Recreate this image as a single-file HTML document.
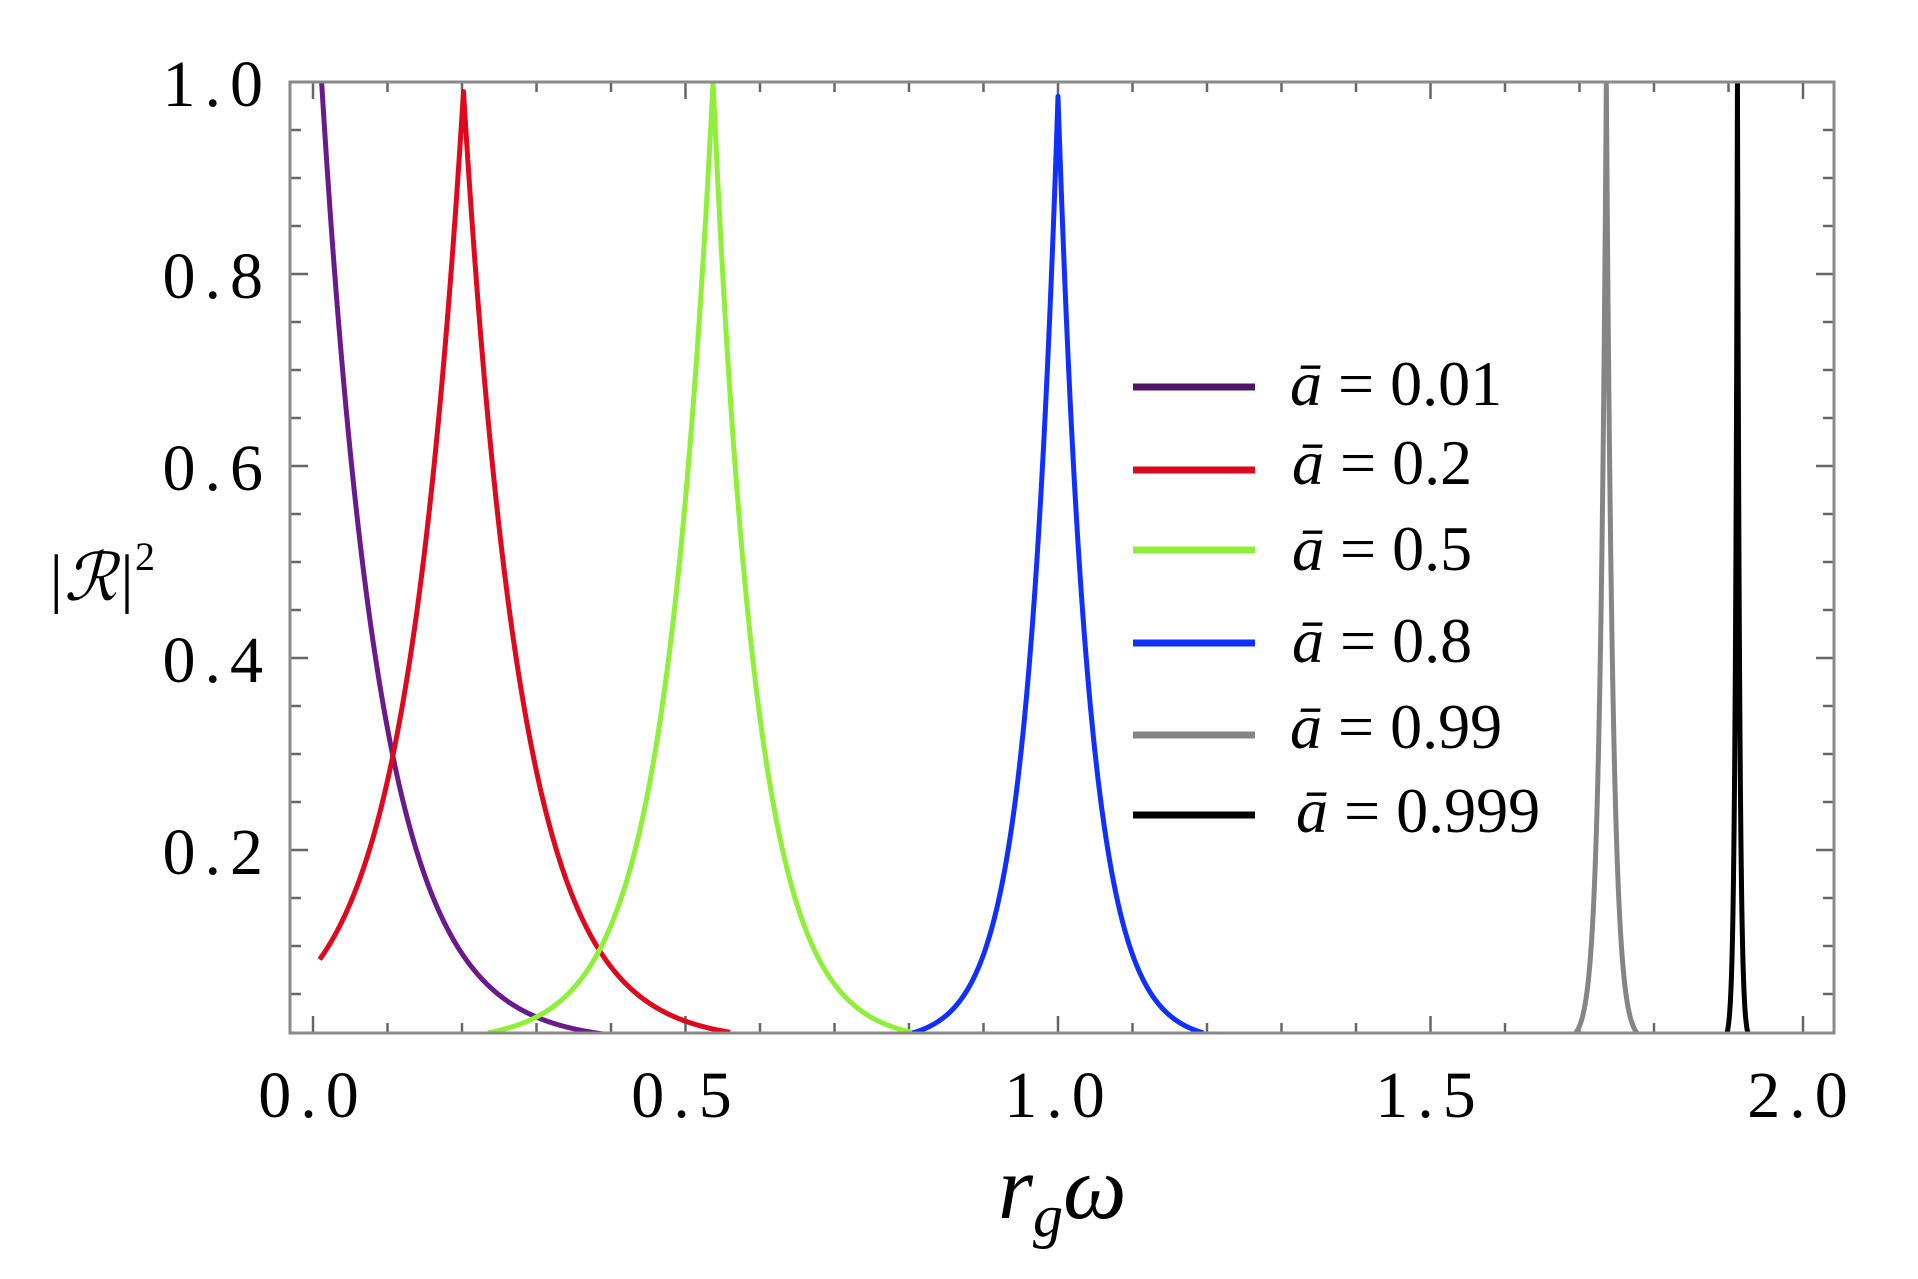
<!DOCTYPE html>
<html><head><meta charset="utf-8"><style>
html,body{margin:0;padding:0;background:#fff;}
svg{display:block;}
text{font-family:"Liberation Serif",serif;fill:#000;}
</style></head><body>
<svg id="s" width="1918" height="1279" viewBox="0 0 1918 1279" xmlns="http://www.w3.org/2000/svg">
<defs><clipPath id="c"><rect x="290" y="82" width="1544" height="951"/></clipPath></defs>
<g id="ticks" stroke="#666" stroke-width="2.5"></g>
<g id="curves" clip-path="url(#c)" fill="none" stroke-linejoin="round"></g>
<rect x="290" y="82" width="1544" height="951" fill="none" stroke="#8a8a8a" stroke-width="3"/>
<g font-size="66" text-anchor="middle" letter-spacing="9">
<text x="313" y="1117">0.0</text>
<text x="686" y="1117">0.5</text>
<text x="1059" y="1117">1.0</text>
<text x="1430" y="1117">1.5</text>
<text x="1802" y="1117">2.0</text>
</g>
<g font-size="66" text-anchor="end" letter-spacing="9">
<text x="272" y="106">1.0</text>
<text x="272" y="298">0.8</text>
<text x="272" y="490">0.6</text>
<text x="272" y="682">0.4</text>
<text x="272" y="874">0.2</text>
</g>
<text x="998" y="1218" font-size="90" font-style="italic">r<tspan font-size="60" dy="18">g</tspan><tspan dy="-18" font-size="90">ω</tspan></text>
<text x="46" y="600" font-size="66" font-style="italic">|ℛ|<tspan font-style="normal" font-size="40" dy="-30">2</tspan></text>
<g font-size="64">
<line x1="1133" y1="387" x2="1255" y2="387" stroke="#4f1466" stroke-width="7"/>
<text x="1290" y="405"><tspan font-style="italic">ā</tspan> = 0.01</text>
<line x1="1133" y1="470" x2="1255" y2="470" stroke="#e0081c" stroke-width="7"/>
<text x="1292" y="484"><tspan font-style="italic">ā</tspan> = 0.2</text>
<line x1="1133" y1="550" x2="1255" y2="550" stroke="#8ef038" stroke-width="7"/>
<text x="1292" y="570"><tspan font-style="italic">ā</tspan> = 0.5</text>
<line x1="1133" y1="643" x2="1255" y2="643" stroke="#1030ff" stroke-width="7"/>
<text x="1292" y="662"><tspan font-style="italic">ā</tspan> = 0.8</text>
<line x1="1133" y1="735" x2="1255" y2="735" stroke="#858585" stroke-width="7"/>
<text x="1290" y="748"><tspan font-style="italic">ā</tspan> = 0.99</text>
<line x1="1133" y1="815" x2="1255" y2="815" stroke="#000" stroke-width="7"/>
<text x="1296" y="832"><tspan font-style="italic">ā</tspan> = 0.999</text>
</g>
</svg>
<script>
(function(){
function X(x){return 313+745*x;}
function Y(y){return 1042-960*y;}
var t=document.getElementById('ticks'),s='';
for(var i=-3;i<=21;i++){var xv=i*0.1,px=X(xv);if(px<292||px>1832)continue;var L=(i%5==0)?17:10;
s+='<line x1="'+px+'" y1="1033" x2="'+px+'" y2="'+(1033-L)+'"/><line x1="'+px+'" y1="82" x2="'+px+'" y2="'+(82+L)+'"/>';}
for(var j=0;j<=20;j++){var yv=j*0.05,py=Y(yv);if(py>1031||py<83)continue;var L2=(j%4==0)?18:11;
s+='<line x1="290" y1="'+py+'" x2="'+(290+L2)+'" y2="'+py+'"/><line x1="1834" y1="'+py+'" x2="'+(1834-L2)+'" y2="'+py+'"/>';}
t.innerHTML=s;
var cs=[
{c:'#6a1a8a',x0:0.010,p:1.02,wl:0.079,wr:0.079,a:0.010,b:0.40,w:5},
{c:'#e0081c',x0:0.202,p:0.99,wl:0.079,wr:0.078,a:0.009,b:0.56,w:5},
{c:'#8ef038',x0:0.537,p:1.0,wl:0.065,wr:0.058,a:0.235,b:0.805,w:5},
{c:'#1030ff',x0:1.0,p:0.985,wl:0.042,wr:0.042,a:0.805,b:1.195,w:5},
{c:'#858585',x0:1.736,p:1.0,wl:0.0088,wr:0.0088,a:1.694,b:1.778,w:5},
{c:'#000',x0:1.912,p:1.0,wl:0.003,wr:0.003,a:1.897,b:1.926,w:5}];
var g=document.getElementById('curves'),h='';
cs.forEach(function(c){var d='',n=600;
for(var k=0;k<=n;k++){var x=c.a+(c.b-c.a)*k/n;var w=x<c.x0?c.wl:c.wr;var y=c.p*Math.exp(-Math.abs(x-c.x0)/w);
if(k>0&&x>c.x0&&c.a+(c.b-c.a)*(k-1)/n<c.x0){d+='L'+X(c.x0).toFixed(2)+' '+Y(c.p).toFixed(2);}
d+=(k?'L':'M')+X(x).toFixed(2)+' '+Y(y).toFixed(2);}
h+='<path d="'+d+'" stroke="'+c.c+'" stroke-width="'+c.w+'"/>';});
g.innerHTML=h;
})();
</script>
</body></html>
